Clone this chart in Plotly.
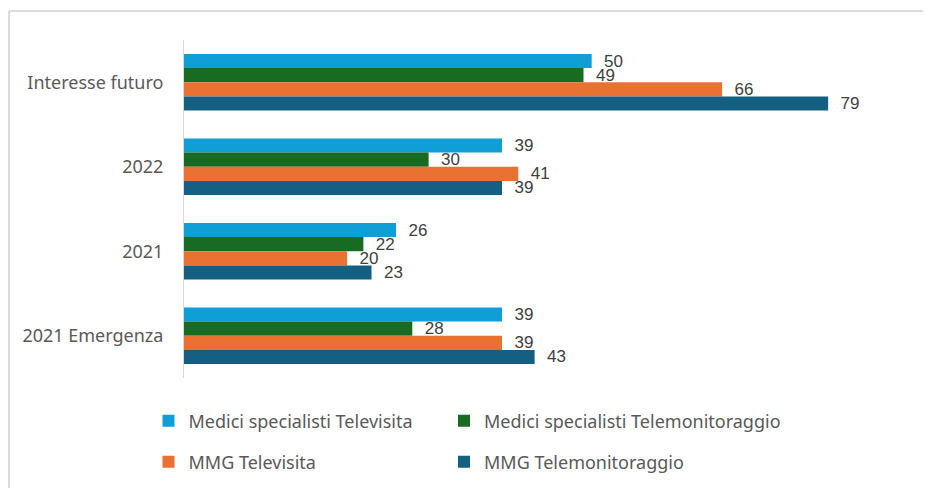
import plotly.graph_objects as go

categorie = ["Interesse futuro", "2022", "2021", "2021 Emergenza"]

serie = ["Medici specialisti Televisita", "Medici specialisti Telemonitoraggio",
         "MMG Televisita", "MMG Telemonitoraggio"]
spec_televisita = [50, 39, 26, 39]
spec_telemonitoraggio = [49, 30, 22, 28]
mmg_televisita = [66, 41, 20, 39]
mmg_telemonitoraggio = [79, 39, 23, 43]

valori = [spec_televisita, spec_telemonitoraggio, mmg_televisita, mmg_telemonitoraggio]
colori = ["#0F9ED5", "#196B24", "#E97132", "#156082"]
legende = ["legend", "legend2", "legend3", "legend4"]

fig = go.Figure()
for nome, v, col, leg in zip(serie, valori, colori, legende):
    fig.add_trace(go.Bar(
        y=categorie, x=v, name=nome, orientation="h",
        marker=dict(color=col, line=dict(width=0)),
        texttemplate="\u00a0\u00a0%{x}", textposition="outside", constraintext="none",
        textfont=dict(family="Liberation Sans", size=17, color="#404040"),
        cliponaxis=False, legend=leg, showlegend=True))

legenda_base = dict(orientation="h", xanchor="left", yanchor="middle",
                    xref="container", yref="container",
                    font=dict(family="Noto Sans", size=18, color="#595959"),
                    bgcolor="rgba(0,0,0,0)")

H = 480
col1 = 140.5 / 923
col2 = 436 / 923
riga1 = 1 - 413 / H
riga2 = 1 - 454 / H

# la pagina ha un margine di 8px: dimensioni e margini corretti di conseguenza
fig.update_layout(
    width=923, height=H,
    margin=dict(l=176, r=67, t=32, b=H - 32 - 338, autoexpand=False),
    paper_bgcolor="white", plot_bgcolor="white",
    barmode="group", bargap=0.33, bargroupgap=0,
    showlegend=True,
    xaxis=dict(range=[0, 83.4], visible=False),
    yaxis=dict(autorange="reversed", showline=True, linecolor="#D9D9D9", linewidth=1,
               ticks="", ticklabelstandoff=16,
               tickfont=dict(family="Noto Sans", size=18, color="#595959")),
    legend=dict(x=col1, y=riga1, **legenda_base),
    legend2=dict(x=col2, y=riga1, **legenda_base),
    legend3=dict(x=col1, y=riga2, **legenda_base),
    legend4=dict(x=col2, y=riga2, **legenda_base),
    shapes=[
        dict(type="line", xref="paper", yref="paper", x0=-175/680, x1=1.2, y0=1 + 29/338, y1=1 + 29/338,
             line=dict(color="#D0D0D0", width=1.5)),
        dict(type="line", xref="paper", yref="paper", x0=-175/680, x1=-175/680, y0=1 + 29/338, y1=-1,
             line=dict(color="#D0D0D0", width=1.5)),
    ],
)

fig.write_html("out.html")
